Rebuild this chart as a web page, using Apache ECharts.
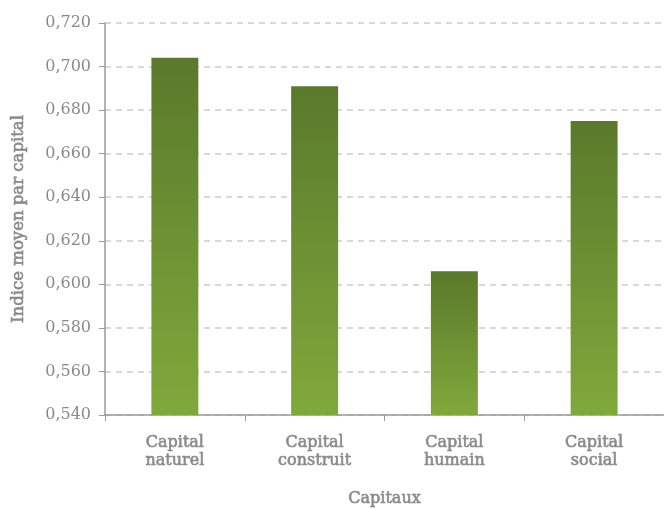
<!DOCTYPE html>
<html>
<head>
<meta charset="utf-8">
<script src="https://cdn.jsdelivr.net/npm/echarts@6/dist/echarts.min.js"></script>
<style>
    html, body { margin: 0; padding: 0; background: #fff; }
    #chart { width: 664px; height: 509px; }
</style>
</head>
<body>
<div id="chart"></div>
<script>
    var categories = ['Capital\nnaturel', 'Capital\nconstruit', 'Capital\nhumain', 'Capital\nsocial'];
    var values = [0.704, 0.691, 0.606, 0.675];
    var yTicks = { min: 0.54, max: 0.72, step: 0.02 };

    var grey = '#8a8a8a';
    var fontFam = '"DejaVu Serif", "Liberation Serif", serif';
    // faux semibold
    var semi = { textBorderColor: grey, textBorderWidth: 0.6 };

    var chart = echarts.init(document.getElementById('chart'));
    chart.setOption({
        animation: false,
        grid: { left: 105, right: 0, top: 23, bottom: 94, outerBoundsMode: 'none', containLabel: false },
        xAxis: {
            type: 'category',
            data: categories,
            name: 'Capitaux',
            nameLocation: 'middle',
            nameGap: 76,
            nameTextStyle: Object.assign({ color: grey, fontFamily: fontFam, fontSize: 16 }, semi),
            axisLine: { lineStyle: { color: '#9a9a9a', width: 1.5 } },
            axisTick: { show: true, length: 6, lineStyle: { color: '#9a9a9a' } },
            axisLabel: Object.assign({ color: grey, fontFamily: fontFam, fontSize: 16, lineHeight: 18, margin: 19 }, semi)
        },
        yAxis: {
            type: 'value',
            min: yTicks.min,
            max: yTicks.max,
            interval: yTicks.step,
            name: 'Indice moyen par capital',
            nameLocation: 'middle',
            nameGap: 78,
            nameTextStyle: Object.assign({ color: grey, fontFamily: fontFam, fontSize: 16.5 }, semi),
            axisLine: { show: true, lineStyle: { color: '#9a9a9a', width: 1.5 } },
            axisTick: { show: true, length: 6, lineStyle: { color: '#9a9a9a' } },
            axisLabel: {
                color: grey, fontFamily: fontFam, fontSize: 16, margin: 14,
                formatter: function (v) { return v.toFixed(3).replace('.', ','); }
            },
            splitLine: { lineStyle: { color: '#cccccc', type: [6, 5], width: 1.5 } }
        },
        series: [{
            type: 'bar',
            data: values,
            barWidth: '33.6%',
            itemStyle: {
                color: new echarts.graphic.LinearGradient(0, 0, 0, 1, [
                    { offset: 0, color: '#5a792b' },
                    { offset: 1, color: '#80a93b' }
                ])
            }
        }]
    });
</script>
</body>
</html>
